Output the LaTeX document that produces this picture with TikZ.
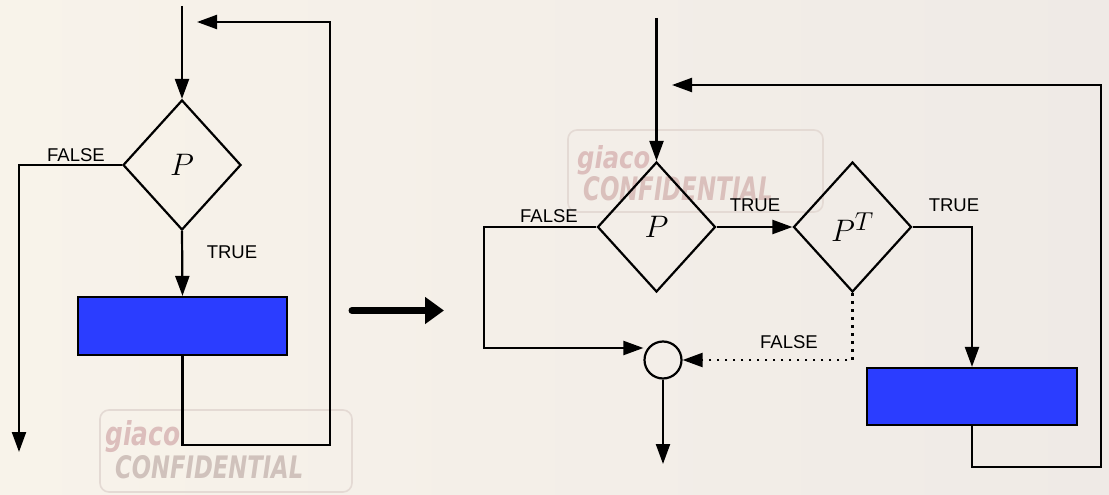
\documentclass[tikz,border=0pt]{standalone}
\usepackage{fontspec}
\usepackage{graphicx}
\setmainfont{Liberation Sans}
\newfontfamily\stampfont{DejaVu Sans}
\usetikzlibrary{shapes.geometric,arrows.meta}

\definecolor{paperL}{RGB}{248,243,234}
\definecolor{paperR}{RGB}{239,234,230}
\definecolor{boxblue}{RGB}{43,61,255}
\definecolor{stampframe}{RGB}{228,218,212}
\definecolor{stampgiaco}{RGB}{220,190,188}
\definecolor{stamptext}{RGB}{218,192,188}
\definecolor{stampgrey}{RGB}{208,194,188}

% decision symbols, enlarged past the largest fixed math size
\newcommand{\bigsym}[1]{\scalebox{1.25}{$#1$}}

\tikzset{
  flow/.style={line width=2.2pt},
  arr/.style={flow,-{Triangle[length=20pt,width=14pt]}},
  dotarr/.style={arr,dash pattern=on 2.4pt off 5.6pt},
  decision/.style={diamond,draw,line width=2.2pt,inner sep=0pt,aspect=1,
    minimum width=118pt,minimum height=130pt,font=\fontsize{24.88}{30}\selectfont},
  action/.style={rectangle,draw,line width=2.2pt,fill=boxblue,inner sep=0pt},
  junction/.style={circle,draw,line width=2.2pt,inner sep=0pt,minimum size=37pt},
  lbl/.style={inner sep=0pt,font=\fontsize{18.5}{20}\selectfont},
  stampbox/.style={draw=stampframe,line width=1.6pt,rounded corners=9pt},
  stampgiaco/.style={inner sep=0pt,anchor=north west,text=stampgiaco,
    font=\stampfont\bfseries\itshape},
  stampconf/.style={inner sep=0pt,anchor=north west,text=stamptext,
    font=\stampfont\bfseries\itshape},
}

\begin{document}
\begin{tikzpicture}[x=1pt,y=-1pt]
  % paper
  \shade[left color=paperL,right color=paperR] (0,0) rectangle (1109,495);
  \useasboundingbox (0,0) rectangle (1109,495);

  % stamps
  \draw[stampbox] (100,410) rectangle (352,492);
  \node[stampgiaco] (sg1) at (105,420) {\resizebox{75pt}{25pt}{giaco}};
  \node[stampconf,text=stampgrey] (sc1) at (115,455) {\resizebox{188pt}{23pt}{CONFIDENTIAL}};
  \draw[stampbox] (568,130) rectangle (823,212);
  \node[stampgiaco] (sg2) at (577,145) {\resizebox{73pt}{23pt}{giaco}};
  \node[stampconf] (sc2) at (583,176) {\resizebox{190pt}{24pt}{CONFIDENTIAL}};

  % ---------- while loop ----------
  \coordinate (inL) at (182,6);
  \node[decision] (dL) at (182,165) {\bigsym{P}};
  \node[action,minimum width=209pt,minimum height=58pt] (bL) at (182.5,326) {};
  \coordinate (outL) at (19,452);
  \coordinate (cornerL) at (330,445);
  \coordinate (retL) at (197,22);

  \draw[arr] (inL) -- (dL.north);
  \draw[arr] (dL.south) -- (bL.north);
  \draw[arr] (dL.west) -| (outL);
  \draw[arr] (bL.south) |- (cornerL) |- (retL);
  \node[lbl] (fL) at (76,155) {FALSE};
  \node[lbl] (tL) at (232,252) {TRUE};

  % ---------- transformation arrow ----------
  \coordinate (bigA) at (352,310.5);
  \coordinate (bigB) at (444,310.5);
  \draw[line width=7pt,line cap=round,-{Triangle[length=19pt,width=26pt]}] (bigA) -- (bigB);

  % ---------- transformed loop ----------
  \coordinate (inR) at (656.5,18);
  \node[decision] (dR) at (656.5,227) {\bigsym{P}};
  \node[decision] (dT) at (852.5,227) {\bigsym{P^T}};
  \node[junction] (cR) at (663,360) {};
  \node[action,minimum width=210pt,minimum height=57pt] (bR) at (972,396.5) {};
  \coordinate (outR) at (663,464);
  \coordinate (fR) at (484,348);
  \coordinate (cornerR) at (1101,467);
  \coordinate (retR) at (672,85);

  \draw[arr] (inR) -- (dR.north);
  \draw[arr] (dR.east) -- (dT.west);
  \draw[arr] (dT.east) -| (bR.north);
  \draw[arr] (dR.west) -| (fR) -- (fR -| cR.west);
  \draw[dotarr] (dT.south) |- (cR.east);
  \draw[arr] (cR.south) -- (outR);
  \draw[arr] (bR.south) |- (cornerR) |- (retR);

  \node[lbl] (fR1) at (549,216) {FALSE};
  \node[lbl] (tR1) at (755,205) {TRUE};
  \node[lbl] (tR2) at (954,205) {TRUE};
  \node[lbl] (fR2) at (789,342) {FALSE};
\end{tikzpicture}
\end{document}
